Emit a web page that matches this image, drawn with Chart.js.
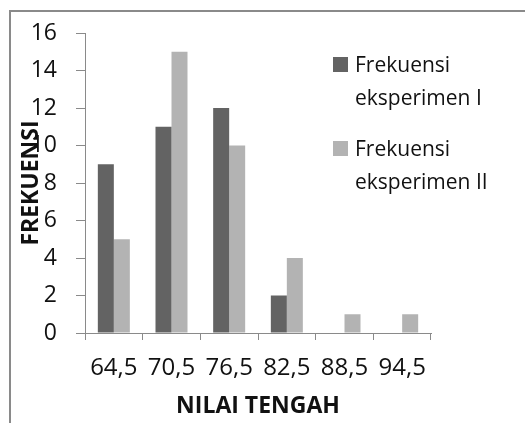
<!DOCTYPE html>
<html><head><meta charset="utf-8">
<script src="https://cdn.jsdelivr.net/npm/chart.js@4/dist/chart.umd.min.js"></script>
<style>
html,body{margin:0;padding:0;background:#fff;width:525px;height:423px;overflow:hidden;}
#frame{position:absolute;left:9px;top:10px;width:600px;height:500px;border:2px solid #8a8a8a;box-sizing:border-box;}
#wrap{position:absolute;left:0;top:0;width:525px;height:423px;}
.leg{position:absolute;font-family:'Open Sans';font-size:21px;line-height:33px;color:#111;white-space:nowrap;}
.sw{position:absolute;width:15px;height:15px;}
</style></head><body>
<div id="frame"></div>
<div id="wrap"><canvas id="c" width="525" height="423"></canvas></div>
<div id="legend"></div>
<script>
const categories = ['64,5','70,5','76,5','82,5','88,5','94,5'];
const seriesNames = [['Frekuensi','eksperimen I'],['Frekuensi','eksperimen II']];
const eksperimen1 = [9, 11, 12, 2, 0, 0];
const eksperimen2 = [5, 15, 10, 4, 1, 1];
const yMin = 0, yMax = 16, yStep = 2;
const colors = ['#636363', '#b3b3b3'];
const axisColor = '#8a8a8a';
const textColor = '#111';

const ctx = document.getElementById('c');
new Chart(ctx, {
  type: 'bar',
  data: {
    labels: categories,
    datasets: [
      { label: seriesNames[0].join(' '), data: eksperimen1, backgroundColor: colors[0], borderWidth: 0, categoryPercentage: 0.555, barPercentage: 1 },
      { label: seriesNames[1].join(' '), data: eksperimen2, backgroundColor: colors[1], borderWidth: 0, categoryPercentage: 0.555, barPercentage: 1 }
    ]
  },
  options: {
    responsive: false,
    animation: false,
    devicePixelRatio: 1,
    layout: { padding: { left: 0, top: 33, right: 94, bottom: 0 } },
    plugins: { legend: { display: false }, tooltip: { enabled: false }, title: { display: false } },
    scales: {
      x: {
        grid: { display: true, drawOnChartArea: false, drawTicks: true, tickLength: 7, color: axisColor, offset: true },
        border: { display: true, color: axisColor, width: 1 },
        ticks: { color: textColor, font: { family: 'Open Sans', size: 24 }, padding: 14, maxRotation: 0, autoSkip: false },
        title: { display: true, text: 'NILAI TENGAH', color: textColor, font: { family: 'Open Sans', size: 23, weight: 'bold' }, padding: { top: 0, bottom: 3 } },
        afterFit: (s) => { s.height = 90; }
      },
      y: {
        min: yMin, max: yMax,
        grid: { display: true, drawOnChartArea: false, drawTicks: true, tickLength: 9, color: axisColor },
        border: { display: true, color: axisColor, width: 1 },
        ticks: { stepSize: yStep, color: textColor, font: { family: 'Open Sans', size: 23 }, padding: 19 },
        title: { display: true, text: 'FREKUENSI', color: textColor, font: { family: 'Open Sans', size: 23, weight: 'bold' }, padding: { top: 18, bottom: 0 } },
        afterFit: (s) => { s.width = 85; }
      }
    }
  }
});

// legend
const legend = document.getElementById('legend');
const legTops = [48, 132];
seriesNames.forEach((lines, i) => {
  const sw = document.createElement('div');
  sw.className = 'sw';
  sw.style.left = '333px';
  sw.style.top = (legTops[i] + 9) + 'px';
  sw.style.background = colors[i];
  legend.appendChild(sw);
  const t = document.createElement('div');
  t.className = 'leg';
  t.style.left = '355px';
  t.style.top = legTops[i] + 'px';
  t.innerHTML = lines.join('<br>');
  legend.appendChild(t);
});
</script>
</body></html>
